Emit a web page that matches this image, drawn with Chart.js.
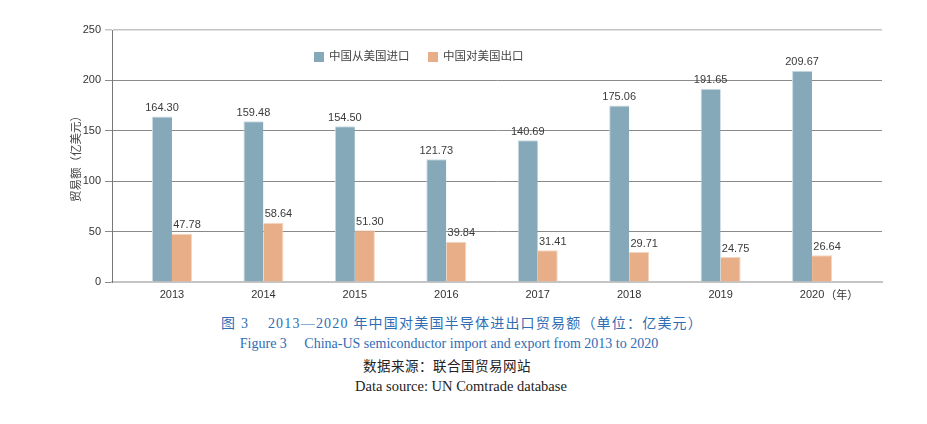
<!DOCTYPE html>
<html>
<head>
<meta charset="utf-8">
<script src="https://cdn.jsdelivr.net/npm/chart.js@4/dist/chart.umd.min.js"></script>
<style>
  body { margin: 0; background: #fff; width: 927px; height: 424px; overflow: hidden; position: relative; }
  #wrap { position: absolute; left: 0; top: 0; width: 927px; height: 305px; }
  .cap { position: absolute; left: 0; width: 916px; text-align: center; white-space: pre; font-family: "Liberation Serif", "Noto Sans CJK SC", serif; }
  .blue { color: #2f6db5; }
</style>
</head>
<body>
<div id="wrap"><canvas id="chart"></canvas></div>
<div class="cap blue" style="top:312px;left:4px;font-size:14px;letter-spacing:1.2px;">图 3    2013—2020 年中国对美国半导体进出口贸易额（单位：亿美元）</div>
<div class="cap blue" style="top:336px;left:-9px;font-size:14px;">Figure 3     China-US semiconductor import and export from 2013 to 2020</div>
<div class="cap" style="top:355px;left:-11px;font-size:13.5px;letter-spacing:0.5px;color:#222;">数据来源：联合国贸易网站</div>
<div class="cap" style="top:378px;left:3px;font-size:14.5px;color:#222;">Data source: UN Comtrade database</div>
<script>
const years = ['2013', '2014', '2015', '2016', '2017', '2018', '2019', '2020'];
const yearUnit = '（年）';
const imports = [164.30, 159.48, 154.50, 121.73, 140.69, 175.06, 191.65, 209.67];
const exports = [47.78, 58.64, 51.30, 39.84, 31.41, 29.71, 24.75, 26.64];
const yTicks = [0, 50, 100, 150, 200, 250];

const font = '"Liberation Sans", "Noto Sans CJK SC", sans-serif';
const toPoints = (arr) => arr.map((v, i) => ({ x: i, y: v }));

// value labels above bars
const valueLabels = {
  id: 'valueLabels',
  afterDatasetsDraw(chart) {
    const ctx = chart.ctx;
    ctx.save();
    ctx.font = '11px ' + font;
    ctx.fillStyle = '#3a3a3a';
    ctx.textAlign = 'center';
    ctx.textBaseline = 'bottom';
    chart.data.datasets.forEach((ds, i) => {
      chart.getDatasetMeta(i).data.forEach((bar, j) => {
        const dx = i === 1 ? 5 : 0;
        ctx.fillText(ds.data[j].y.toFixed(2), bar.x + dx, bar.y - 3);
      });
    });
    // unit after the last year label
    const xs = chart.scales.x;
    const last = years.length - 1;
    ctx.fillStyle = '#333';
    ctx.textAlign = 'left';
    ctx.textBaseline = 'alphabetic';
    const w = ctx.measureText(years[last]).width;
    ctx.fillText(yearUnit, xs.getPixelForValue(last) + w / 2 + 1, xs.top + 16.5);
    ctx.restore();
  }
};

// legend drawn inside the plot area
const innerLegend = {
  id: 'innerLegend',
  afterDraw(chart) {
    const ctx = chart.ctx;
    ctx.save();
    ctx.font = '11.5px ' + font;
    ctx.textBaseline = 'middle';
    const xs = [314, 428];
    chart.data.datasets.forEach((ds, i) => {
      ctx.fillStyle = ds.backgroundColor;
      ctx.fillRect(xs[i], 52, 10, 10);
      ctx.fillStyle = '#444';
      ctx.fillText(ds.label, xs[i] + 15, 57);
    });
    ctx.restore();
  }
};

new Chart(document.getElementById('chart'), {
  type: 'bar',
  data: {
    datasets: [
      { label: '中国从美国进口', data: toPoints(imports), backgroundColor: '#86a9b9', borderColor: '#c9dbe3', borderWidth: { left: 1, top: 1 } },
      { label: '中国对美国出口', data: toPoints(exports), backgroundColor: '#e8ae88', borderColor: '#f4d5c0', borderWidth: { left: 0, top: 1, right: 1 } }
    ]
  },
  options: {
    responsive: true,
    maintainAspectRatio: false,
    animation: false,
    layout: { padding: { left: 66, right: 45, top: 30, bottom: 0 } },
    datasets: { bar: { categoryPercentage: 0.4375, barPercentage: 1.0 } },
    plugins: { legend: { display: false }, tooltip: { enabled: false } },
    scales: {
      x: {
        type: 'linear',
        min: -0.656, max: 7.765,
        offset: false,
        afterBuildTicks(s) { s.ticks = years.map((_, i) => ({ value: i })); },
        grid: { display: false, drawTicks: false },
        border: { color: '#c4c4c4', width: 2 },
        ticks: { color: '#333', font: { size: 11, family: font }, padding: 6, autoSkip: false, maxRotation: 0, callback: (v) => years[v] },
        afterFit(s) { s.height = 23; }
      },
      y: {
        min: 0, max: 250,
        afterBuildTicks(s) { s.ticks = yTicks.map(v => ({ value: v })); },
        grid: {
          color: (c) => c.tick && c.tick.value === 250 ? '#c4c4c4' : '#8a8a8a',
          lineWidth: (c) => c.tick && c.tick.value === 250 ? 1.5 : 1,
          tickLength: 7
        },
        border: { color: '#777', width: 1 },
        ticks: { color: '#333', font: { size: 11, family: font }, padding: 4 },
        title: { display: true, text: '贸易额（亿美元）', color: '#444', font: { size: 11.5, family: font }, padding: { bottom: 4 } },
        afterFit(s) { s.width = 46; }
      }
    }
  },
  plugins: [valueLabels, innerLegend]
});
</script>
</body>
</html>
